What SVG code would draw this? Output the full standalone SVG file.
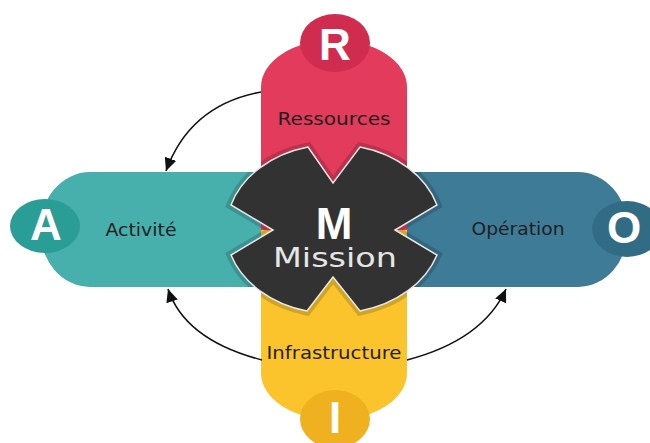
<svg xmlns="http://www.w3.org/2000/svg" width="650" height="443" viewBox="0 0 650 443">
  <style>
    .label { font-family: "DejaVu Sans", "Liberation Sans", sans-serif; font-size: 18px; fill: #1f1f1f; text-anchor: middle; }
    .letter { font-family: "Liberation Sans", "DejaVu Sans", sans-serif; font-weight: bold; font-size: 44px; fill: #ffffff; text-anchor: middle; }
    .link { fill: none; stroke: #111111; stroke-width: 1.6; }
  </style>
  <defs>
    <marker id="head" markerUnits="userSpaceOnUse" markerWidth="14" markerHeight="12" refX="13" refY="6" orient="auto">
      <path d="M0,0 L13,6 L0,12 Z" fill="#111111"/>
    </marker>
    <!-- notched centre outline, reused for the shade band and the fill -->
    <path id="hub" d="M360,147 A107,85 0 0 1 437,205 L395,230 L437,255 A107,85 0 0 1 360,311 L333,277 L307,311 A107,85 0 0 1 231,255 L273,230 L231,205 A107,85 0 0 1 308,147 L333,183 Z"/>
    <!-- the shade band only darkens the coloured arms -->
    <clipPath id="arms">
      <rect x="40" y="172" width="590" height="115"/>
      <rect x="261" y="40" width="146" height="380"/>
    </clipPath>
  </defs>

  <rect width="650" height="443" fill="#ffffff"/>

  <!-- Activité (left arm) -->
  <g id="node-activite">
    <path d="M340,172 H90 A50,57.5 0 0 0 90,287 H340 Z" fill="#47afac"/>
    <ellipse cx="45" cy="226" rx="35" ry="27" fill="#2a9d97"/>
    <text class="letter" x="46" y="240">A</text>
    <text class="label" x="141" y="236" textLength="71" lengthAdjust="spacingAndGlyphs">Activité</text>
  </g>

  <!-- Opération (right arm) -->
  <g id="node-operation">
    <path d="M330,172 H578 A50,57.5 0 0 1 578,287 H330 Z" fill="#3e7b96"/>
    <ellipse cx="627" cy="229" rx="35" ry="28" fill="#326c84"/>
    <text class="letter" x="624" y="243">O</text>
    <text class="label" x="518" y="235" textLength="93" lengthAdjust="spacingAndGlyphs">Opération</text>
  </g>

  <!-- Ressources (top arm) -->
  <g id="node-ressources">
    <path d="M261,230 V87 A73,47 0 0 1 407,87 V230 Z" fill="#e33b5b"/>
    <ellipse cx="335" cy="43" rx="35" ry="29" fill="#cf2c4f"/>
    <text class="letter" x="335" y="60">R</text>
    <text class="label" x="334" y="125" textLength="113" lengthAdjust="spacingAndGlyphs">Ressources</text>
  </g>

  <!-- Infrastructure (bottom arm) -->
  <g id="node-infrastructure">
    <path d="M261,230 V373 A73,47 0 0 0 407,373 V230 Z" fill="#fbc42d"/>
    <ellipse cx="335" cy="419" rx="35" ry="29" fill="#efb120"/>
    <text class="letter" x="335" y="433">I</text>
    <text class="label" x="334" y="359" textLength="135" lengthAdjust="spacingAndGlyphs">Infrastructure</text>
  </g>

  <!-- Mission (notched centre) -->
  <g id="node-mission">
    <use href="#hub" fill="none" stroke="#000000" stroke-opacity="0.16" stroke-width="9" clip-path="url(#arms)"/>
    <use href="#hub" fill="#323232" stroke="#e8e8e8" stroke-width="1.5"/>
    <text x="334" y="239" font-family="Liberation Sans, sans-serif" font-weight="bold" font-size="44" fill="#ffffff" text-anchor="middle">M</text>
    <text x="335" y="267" font-family="DejaVu Sans, sans-serif" font-size="27" fill="#e6e6e6" text-anchor="middle" textLength="124" lengthAdjust="spacingAndGlyphs">Mission</text>
  </g>

  <!-- Cycle arrows -->
  <g id="connectors">
    <path class="link" d="M261,92 Q190,105 166,171" marker-end="url(#head)"/>
    <path class="link" d="M262,360 Q185,340 168,289" marker-end="url(#head)"/>
    <path class="link" d="M407,360 Q483,340 506,289" marker-end="url(#head)"/>
  </g>
</svg>
